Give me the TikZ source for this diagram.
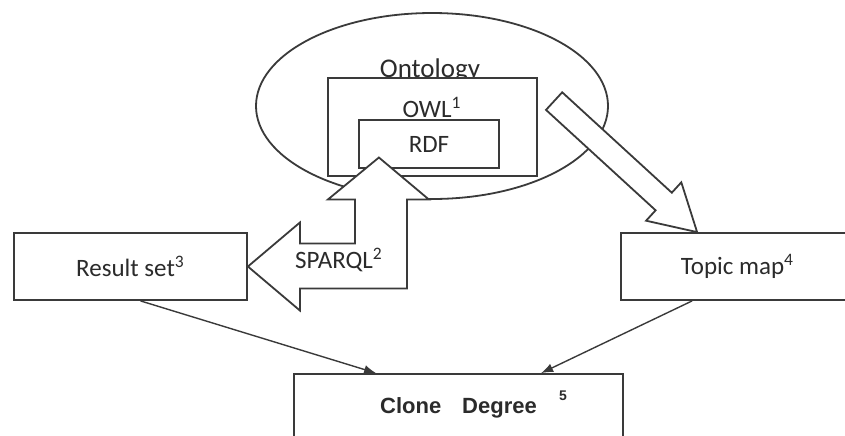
\documentclass[tikz,border=0pt]{standalone}
\usepackage{fontspec}
\setmainfont{Carlito}
\newfontfamily\degreefont{Liberation Sans}
\usepackage{xcolor}
\usepackage{tikz}
\usetikzlibrary{
  arrows.meta,
  calc,
  shapes.geometric
}
\definecolor{OntLine}{HTML}{3A3A3A}
\definecolor{OntText}{HTML}{2B2B2B}
\tikzset{
  every node/.style = {text=OntText},
  part/.style = {
    draw=OntLine,
    fill=white,
    line width=0.9pt,
    inner sep=0pt,
    font=\fontsize{12.5}{14}\selectfont
  },
  part box/.style = {part, rectangle},
  onto shell/.style = {part, ellipse},
  block arrow/.style = {draw=OntLine, fill=white, line width=0.9pt, line join=miter},
  flow/.style = {-{Latex[length=6pt,width=4.5pt]}, draw=OntLine, line width=0.7pt},
  tag/.style = {font=\fontsize{12.5}{14}\selectfont, inner sep=0pt},
  degree/.style = {font=\degreefont\bfseries\fontsize{11}{13}\selectfont},
}

\begin{document}
\begin{tikzpicture}[x=0.5pt,y=-0.5pt]
  \useasboundingbox (0,0) rectangle (845,435);
  \clip (0,0) rectangle (845,435);

  % ontology stack
  \node[onto shell, minimum width=176pt, minimum height=93pt] (onto) at (432,106) {};
  \node[tag, anchor=base, font=\fontsize{13.5}{15}\selectfont] (ontolabel) at (430,77) {Ontology};
  \node[part box, minimum width=104.5pt, minimum height=49pt] (owl) at (432.5,127) {};
  \node[tag, anchor=base] (owllabel) at (432,117) {OWL\textsuperscript{1}};
  \node[part box, minimum width=70pt, minimum height=24pt] (rdf) at (429,144) {RDF};

  % outputs
  \node[part box, minimum width=116.5pt, minimum height=33.5pt] (res) at (130.5,266.5) {Result set\textsuperscript{3}};
  \node[part box, minimum width=116.5pt, minimum height=33.5pt] (topic) at (737.5,266.5) {Topic map\textsuperscript{4}};
  \node[part box, degree, minimum width=164.5pt, minimum height=33.5pt] (clone) at (458.5,407.5) {Clone\hspace{0.95em}Degree};
  \node[degree, font=\degreefont\bfseries\fontsize{7}{8}\selectfont, inner sep=0pt] (clonesup) at (563,396) {5};

  % block arrows
  \draw[block arrow] (res.east) -- ++(52,-44) -- ++(0,21) -- ++(55,0) -- ++(0,-44)
    -- ++(-27,0) -- ++(51,-42) -- ++(50,42) -- ++(-22,0) -- ++(0,89)
    -- ++(-107,0) -- ++(0,22) -- cycle;
  \node[tag, anchor=base] (sparql) at (339,268) {SPARQL\textsuperscript{2}};
  \draw[block arrow] ($(topic.north west)+(77,0)$) -- ++(-51,-11.4) -- ++(9.5,-10.4)
    -- ++(-109.6,-100.4) -- ++(16.2,-17.6) -- ++(109.6,100.4) -- ++(9.5,-10.4) -- cycle;

  \draw[flow] ($(res.south)+(10,0)$) -- ($(clone.north west)+(83,0)$);
  \draw[flow] ($(topic.south west)+(72,0)$) -- ($(clone.north west)+(248,0)$);
\end{tikzpicture}
\end{document}
